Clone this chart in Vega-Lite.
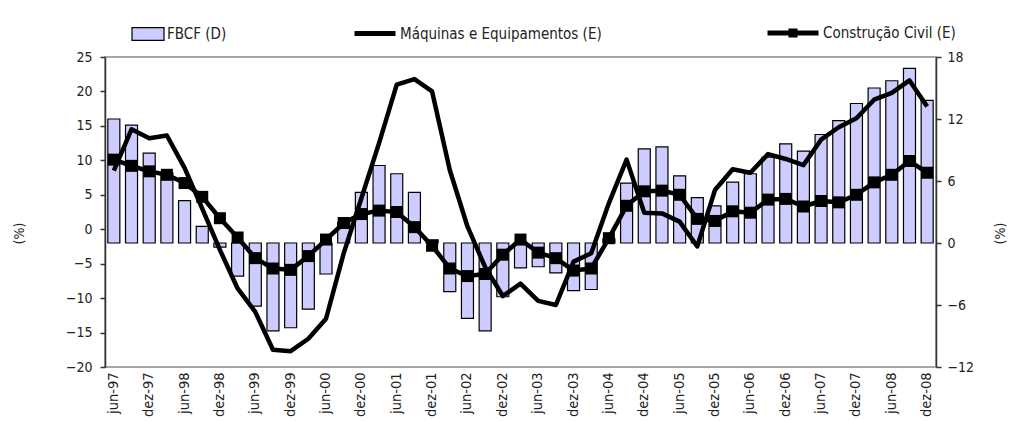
{
  "$schema": "https://vega.github.io/schema/vega-lite/v6.json",
  "width": 831,
  "height": 310,
  "autosize": {"type": "none"},
  "padding": {"left": 105, "top": 57, "right": 73, "bottom": 54},
  "background": "white",
  "config": {
    "font": "Liberation Sans Narrow, DejaVu Sans Condensed, sans-serif",
    "view": {"stroke": "#a6a6a6", "strokeWidth": 2},
    "axis": {
      "labelFont": "Liberation Sans Narrow, DejaVu Sans Condensed, sans-serif",
      "labelFontSize": 14,
      "labelColor": "#222222",
      "titleFont": "Liberation Sans Narrow, DejaVu Sans Condensed, sans-serif",
      "titleFontSize": 14,
      "titleFontWeight": "normal",
      "titleColor": "#222222",
      "grid": false,
      "domainColor": "#333333",
      "tickColor": "#333333",
      "domainWidth": 1.5,
      "tickWidth": 1.5
    },
    "legend": {
      "labelFont": "Liberation Sans Narrow, DejaVu Sans Condensed, sans-serif",
      "labelFontSize": 15,
      "labelColor": "#222222",
      "labelLimit": 400,
      "padding": 0,
      "labelOffset": 2,
      "orient": "none",
      "title": null
    }
  },
  "data": {
    "values": [
      {"q": "jun-97", "fbcf": 12.0, "maq": 8.5, "cc": 10.1},
      {"q": "set-97", "fbcf": 11.4, "maq": 14.5, "cc": 9.2},
      {"q": "dez-97", "fbcf": 8.7, "maq": 13.2, "cc": 8.4},
      {"q": "mar-98", "fbcf": 6.8, "maq": 13.6, "cc": 7.9},
      {"q": "jun-98", "fbcf": 4.1, "maq": 8.9, "cc": 6.7},
      {"q": "set-98", "fbcf": 1.6, "maq": 3.0, "cc": 4.7},
      {"q": "dez-98", "fbcf": -0.4, "maq": -3.0, "cc": 1.6},
      {"q": "mar-99", "fbcf": -3.2, "maq": -8.6, "cc": -1.2},
      {"q": "jun-99", "fbcf": -6.1, "maq": -12.0, "cc": -4.2},
      {"q": "set-99", "fbcf": -8.5, "maq": -17.5, "cc": -5.7},
      {"q": "dez-99", "fbcf": -8.2, "maq": -17.7, "cc": -5.9},
      {"q": "mar-00", "fbcf": -6.4, "maq": -15.9, "cc": -3.9},
      {"q": "jun-00", "fbcf": -3.0, "maq": -13.0, "cc": -1.5},
      {"q": "set-00", "fbcf": 2.0, "maq": -3.5, "cc": 0.9},
      {"q": "dez-00", "fbcf": 4.9, "maq": 4.5, "cc": 2.2},
      {"q": "mar-01", "fbcf": 7.5, "maq": 12.5, "cc": 2.7},
      {"q": "jun-01", "fbcf": 6.7, "maq": 21.0, "cc": 2.5},
      {"q": "set-01", "fbcf": 4.9, "maq": 21.8, "cc": 0.3},
      {"q": "dez-01", "fbcf": 0.3, "maq": 20.0, "cc": -2.4},
      {"q": "mar-02", "fbcf": -4.7, "maq": 8.6, "cc": -5.7},
      {"q": "jun-02", "fbcf": -7.3, "maq": 0.4, "cc": -6.8},
      {"q": "set-02", "fbcf": -8.5, "maq": -5.5, "cc": -6.5},
      {"q": "dez-02", "fbcf": -5.2, "maq": -9.7, "cc": -3.7},
      {"q": "mar-03", "fbcf": -2.4, "maq": -7.9, "cc": -1.5},
      {"q": "jun-03", "fbcf": -2.3, "maq": -10.4, "cc": -3.4},
      {"q": "set-03", "fbcf": -2.9, "maq": -11.0, "cc": -4.2},
      {"q": "dez-03", "fbcf": -4.6, "maq": -4.7, "cc": -6.0},
      {"q": "mar-04", "fbcf": -4.5, "maq": -3.5, "cc": -5.7},
      {"q": "jun-04", "fbcf": 0.4, "maq": 3.8, "cc": -1.3},
      {"q": "set-04", "fbcf": 5.8, "maq": 10.1, "cc": 3.4},
      {"q": "dez-04", "fbcf": 9.1, "maq": 2.4, "cc": 5.5},
      {"q": "mar-05", "fbcf": 9.3, "maq": 2.3, "cc": 5.6},
      {"q": "jun-05", "fbcf": 6.5, "maq": 1.1, "cc": 5.0},
      {"q": "set-05", "fbcf": 4.4, "maq": -2.5, "cc": 1.5},
      {"q": "dez-05", "fbcf": 3.6, "maq": 5.7, "cc": 1.2},
      {"q": "mar-06", "fbcf": 5.9, "maq": 8.7, "cc": 2.6},
      {"q": "jun-06", "fbcf": 6.7, "maq": 8.2, "cc": 2.4},
      {"q": "set-06", "fbcf": 8.3, "maq": 10.9, "cc": 4.3},
      {"q": "dez-06", "fbcf": 9.6, "maq": 10.2, "cc": 4.4},
      {"q": "mar-07", "fbcf": 8.9, "maq": 9.3, "cc": 3.3},
      {"q": "jun-07", "fbcf": 10.5, "maq": 13.0, "cc": 4.1},
      {"q": "set-07", "fbcf": 11.85, "maq": 14.8, "cc": 3.9},
      {"q": "dez-07", "fbcf": 13.5, "maq": 16.1, "cc": 5.0},
      {"q": "mar-08", "fbcf": 15.0, "maq": 18.8, "cc": 6.8},
      {"q": "jun-08", "fbcf": 15.7, "maq": 19.8, "cc": 7.9},
      {"q": "set-08", "fbcf": 16.9, "maq": 21.6, "cc": 9.9},
      {"q": "dez-08", "fbcf": 13.8, "maq": 17.8, "cc": 8.2}
    ]
  },
  "layer": [
    {
      "mark": {"type": "bar", "stroke": "black", "strokeWidth": 1.2},
      "encoding": {
        "x": {
          "field": "q", "type": "nominal", "sort": null,
          "scale": {"paddingInner": 0.32, "paddingOuter": 0.16},
          "axis": {
            "title": null, "labelAngle": -90, "labelAlign": "right", "labelBaseline": "middle",
            "labelPadding": 5, "labelFontSize": 14.5, "ticks": false, "domain": false, "labelOverlap": false,
            "labelExpr": "(slice(datum.value,0,3)=='jun' || slice(datum.value,0,3)=='dez') ? datum.value : ''"
          }
        },
        "y": {
          "field": "fbcf", "type": "quantitative",
          "scale": {"domain": [-12, 18], "nice": false, "zero": false},
          "axis": {
            "orient": "right", "values": [-12, -6, 0, 6, 12, 18], "tickSize": 5, "labelPadding": 6,
            "title": "(%)", "titleAngle": 270, "titleX": 64, "titleY": 176, "titleAlign": "center", "titleBaseline": "middle"
          }
        },
        "fill": {
          "datum": "FBCF (D)",
          "scale": {"range": ["#ccccff"]},
          "legend": {"legendX": 26, "legendY": -40, "symbolType": "M-1,-0.4H1V0.4H-1Z", "symbolSize": 1024, "symbolStrokeWidth": 1.2}
        }
      }
    },
    {
      "layer": [
        {
          "mark": {"type": "line", "strokeWidth": 4.5, "strokeJoin": "round"},
          "encoding": {
            "x": {"field": "q", "type": "nominal", "sort": null, "title": null},
            "y": {
              "field": "maq", "type": "quantitative",
              "scale": {"domain": [-20, 25], "nice": false, "zero": false},
              "axis": {
                "orient": "left", "values": [-20, -15, -10, -5, 0, 5, 10, 15, 20, 25], "tickSize": 5, "labelPadding": 8,
                "title": "(%)", "titleAngle": 270, "titleX": -86, "titleY": 176, "titleAlign": "center", "titleBaseline": "middle"
              }
            },
            "stroke": {
              "datum": "Máquinas e Equipamentos (E)",
              "scale": {"range": ["black"]},
              "legend": {"legendX": 247, "legendY": -46.5, "symbolType": "stroke", "symbolSize": 1681, "symbolStrokeWidth": 5}
            }
          }
        },
        {
          "mark": {"type": "line", "strokeWidth": 4.5, "strokeJoin": "round"},
          "encoding": {
            "x": {"field": "q", "type": "nominal", "sort": null, "title": null},
            "y": {
              "field": "cc", "type": "quantitative",
              "scale": {"domain": [-20, 25], "nice": false, "zero": false},
              "axis": {
                "orient": "left", "values": [-20, -15, -10, -5, 0, 5, 10, 15, 20, 25], "tickSize": 5, "labelPadding": 8,
                "title": "(%)", "titleAngle": 270, "titleX": -86, "titleY": 176, "titleAlign": "center", "titleBaseline": "middle"
              }
            },
            "color": {
              "datum": "Construção Civil (E)",
              "scale": {"range": ["black"]},
              "legend": {"legendX": 660, "legendY": -52, "symbolType": "M-1,0H1M-0.08,-0.08H0.08V0.08H-0.08Z", "symbolSize": 2601, "symbolStrokeWidth": 5, "symbolFillColor": "black"}
            }
          }
        },
        {
          "mark": {"type": "point", "shape": "square", "filled": true, "size": 144, "color": "black", "opacity": 1},
          "encoding": {
            "x": {"field": "q", "type": "nominal", "sort": null, "title": null},
            "y": {
              "field": "cc", "type": "quantitative",
              "scale": {"domain": [-20, 25], "nice": false, "zero": false},
              "axis": {
                "orient": "left", "values": [-20, -15, -10, -5, 0, 5, 10, 15, 20, 25], "tickSize": 5, "labelPadding": 8,
                "title": "(%)", "titleAngle": 270, "titleX": -86, "titleY": 176, "titleAlign": "center", "titleBaseline": "middle"
              }
            }
          }
        }
      ]
    }
  ],
  "resolve": {"scale": {"y": "independent"}}
}
